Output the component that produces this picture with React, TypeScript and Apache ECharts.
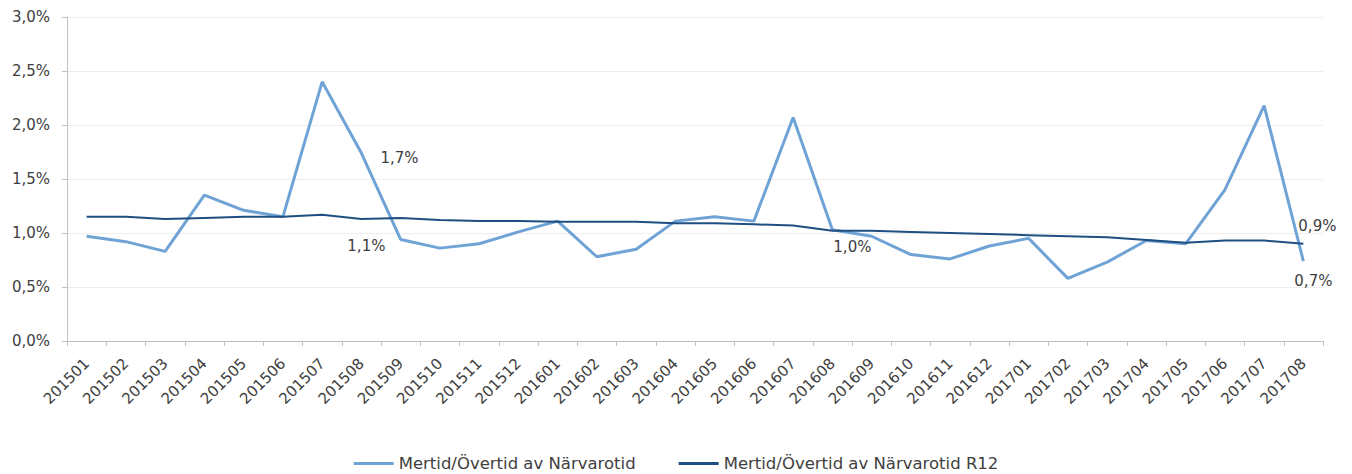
import React, { useEffect, useRef } from "react";
import * as echarts from "echarts";

const categories = [
  "201501", "201502", "201503", "201504", "201505", "201506", "201507", "201508",
  "201509", "201510", "201511", "201512", "201601", "201602", "201603", "201604",
  "201605", "201606", "201607", "201608", "201609", "201610", "201611", "201612",
  "201701", "201702", "201703", "201704", "201705", "201706", "201707", "201708",
];

const monthly = [
  0.97, 0.92, 0.83, 1.35, 1.21, 1.15, 2.4, 1.74,
  0.94, 0.86, 0.9, 1.01, 1.11, 0.78, 0.85, 1.11,
  1.15, 1.11, 2.07, 1.03, 0.97, 0.8, 0.76, 0.88,
  0.95, 0.58, 0.73, 0.93, 0.9, 1.4, 2.18, 0.74,
];

const r12 = [
  1.15, 1.15, 1.13, 1.14, 1.15, 1.15, 1.17, 1.13,
  1.14, 1.12, 1.11, 1.11, 1.105, 1.105, 1.105, 1.09,
  1.09, 1.08, 1.07, 1.02, 1.02, 1.01, 1.0, 0.99,
  0.98, 0.97, 0.96, 0.935, 0.91, 0.93, 0.93, 0.9,
];

const seriesNames = ["Mertid/Övertid av Närvarotid", "Mertid/Övertid av Närvarotid R12"];

const yTicks = { min: 0, max: 3, interval: 0.5 };

const fmt = (v: number) => v.toFixed(1).replace(".", ",") + "%";

const FONT = "DejaVu Sans";
const TEXT = "#404040";

// labels: index -> [position, offset]
const monthlyLabels: Record<number, [string, number[]]> = {
  7: ["right", [14, 5]],
  31: ["bottom", [10, 7]],
};
const r12Labels: Record<number, [string, number[]]> = {
  7: ["bottom", [5, 15]],
  19: ["bottom", [20, 4]],
  31: ["top", [14, -5]],
};

function buildData(values: number[], labels: Record<number, [string, number[]]>) {
  return values.map((v, i) => {
    const l = labels[i];
    if (!l) return v;
    return {
      value: v,
      label: {
        show: true,
        position: l[0],
        offset: l[1],
        formatter: (p: any) => fmt(p.value),
        color: TEXT,
        fontSize: 15,
        fontFamily: FONT,
      },
    };
  });
}

export default function App() {
  const ref = useRef<HTMLDivElement>(null);
  useEffect(() => {
    if (!ref.current) return;
    const chart = echarts.init(ref.current, undefined, { renderer: "svg" });
    chart.setOption({
      animation: false,
      backgroundColor: "#ffffff",
      textStyle: { fontFamily: FONT },
      grid: { left: 67, right: 29, top: 17, bottom: 133, containLabel: false },
      legend: {
        top: 450,
        left: "center",
        icon: "rect",
        itemWidth: 40,
        itemHeight: 3,
        itemGap: 43,
        textStyle: { color: TEXT, fontSize: 16.5, fontFamily: FONT },
        data: seriesNames,
      },
      xAxis: {
        type: "category",
        data: categories,
        boundaryGap: true,
        axisLine: { show: true, lineStyle: { color: "#BFBFBF", width: 1 } },
        axisTick: { show: true, length: 5, lineStyle: { color: "#BFBFBF" } },
        axisLabel: {
          rotate: 45,
          interval: 0,
          color: TEXT,
          fontSize: 15,
          fontFamily: FONT,
          margin: 20,
        },
      },
      yAxis: {
        type: "value",
        min: yTicks.min,
        max: yTicks.max,
        interval: yTicks.interval,
        axisLine: { show: true, lineStyle: { color: "#BFBFBF", width: 1 } },
        axisTick: { show: true, length: 5, lineStyle: { color: "#BFBFBF" } },
        splitLine: { show: true, lineStyle: { color: "#EEEEEE", width: 1 } },
        axisLabel: {
          color: TEXT,
          fontSize: 15,
          fontFamily: FONT,
          margin: 17,
          formatter: (v: number) => fmt(v),
        },
      },
      series: [
        {
          name: seriesNames[0],
          type: "line",
          data: buildData(monthly, monthlyLabels),
          showSymbol: true,
          symbol: "circle",
          symbolSize: 0,
          lineStyle: { color: "#6FA3D5", width: 3 },
          itemStyle: { color: "#6FA3D5" },
          z: 2,
        },
        {
          name: seriesNames[1],
          type: "line",
          data: buildData(r12, r12Labels),
          showSymbol: true,
          symbol: "circle",
          symbolSize: 0,
          lineStyle: { color: "#1F4E80", width: 2 },
          itemStyle: { color: "#1F4E80" },
          z: 3,
        },
      ],
    });
    return () => chart.dispose();
  }, []);
  return (
    <div
      ref={ref}
      style={{ position: "fixed", left: 0, top: 0, width: 1352, height: 474 }}
    />
  );
}
